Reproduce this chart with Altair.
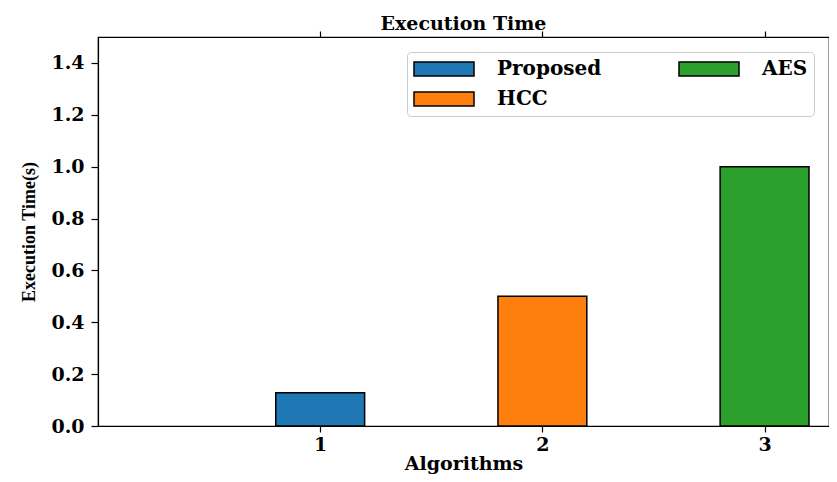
import altair as alt
import pandas as pd

algorithms = ["Proposed", "HCC", "AES"]
positions = [1, 2, 3]
times = [0.128, 0.5, 1.0]
legend_order = ["Proposed", "HCC", "AES"]
legend_colors = ["#1f77b4", "#ff7f0e", "#2ca02c"]
y_ticks = [0.0, 0.2, 0.4, 0.6, 0.8, 1.0, 1.2, 1.4]
x_ticks = [1, 2, 3]

df = pd.DataFrame({"algo": algorithms, "pos": positions, "time": times})

FONT = "DejaVu Serif"

xscale = alt.Scale(domain=[0, 3.29], nice=False, zero=False)
yscale = alt.Scale(domain=[0, 1.5], nice=False)

base = alt.Chart(df).transform_calculate(
    x0="datum.pos - 0.2", x1="datum.pos + 0.2", base0="0"
)

bars = base.mark_bar(stroke="black", strokeWidth=1.5, opacity=1).encode(
    x=alt.X("x0:Q", scale=xscale,
            axis=alt.Axis(values=x_ticks, format="d", title="Algorithms", orient="bottom",
                          grid=False, tickSize=6, labelPadding=3, titlePadding=0,
                          titleFontSize=19)),
    x2="x1:Q",
    y=alt.Y("time:Q", scale=yscale,
            axis=alt.Axis(values=y_ticks, format=".1f", title="Execution Time(s)", orient="left",
                          grid=False, tickSize=7, labelPadding=7, titlePadding=12,
                          titleFont="Liberation Serif", titleFontSize=18)),
    y2="base0:Q",
    color=alt.Color("algo:N", scale=alt.Scale(domain=legend_order, range=legend_colors),
                    legend=alt.Legend(title=None, orient="none", legendX=309, legendY=15,
                                      direction="vertical",
                                      columns=2, columnPadding=76, rowPadding=8,
                                      symbolType="M-1,-0.233H1V0.233H-1Z", symbolSize=3600,
                                      symbolStrokeColor="black", symbolStrokeWidth=1.5,
                                      symbolOpacity=1, symbolOffset=0,
                                      clipHeight=22, labelOffset=22,
                                      labelFont=FONT, labelFontSize=20, labelFontWeight="bold",
                                      labelColor="black",
                                      padding=6, fillColor="white", strokeColor="#cccccc",
                                      cornerRadius=4)),
)

mirror = base.mark_bar(opacity=0).encode(
    x=alt.X("x0:Q", scale=xscale,
            axis=alt.Axis(values=x_ticks, labels=False, title=None, orient="top",
                          grid=False, tickSize=6)),
    x2="x1:Q",
    y=alt.Y("time:Q", scale=yscale,
            axis=alt.Axis(values=y_ticks, labels=False, title=None, orient="right",
                          grid=False, tickSize=7)),
    y2="base0:Q",
)

chart = alt.layer(bars, mirror).resolve_axis(x="independent", y="independent").properties(
    width=731, height=389,
    autosize="none",
    padding={"left": 90, "top": 29, "right": 0, "bottom": 48},
    title=alt.Title("Execution Time", font=FONT, fontSize=19, fontWeight="bold",
                    color="black", anchor="middle", offset=-4),
).configure_view(stroke="black", strokeWidth=1.2).configure_axis(
    domainColor="black", tickColor="black", domainWidth=1.2, tickWidth=1.2,
    labelFont=FONT, labelFontSize=19, labelFontWeight="bold", labelColor="black",
    titleFont=FONT, titleFontSize=20, titleFontWeight="bold", titleColor="black",
)

chart.save("out.html", embed_options={"renderer": "svg", "actions": False})
